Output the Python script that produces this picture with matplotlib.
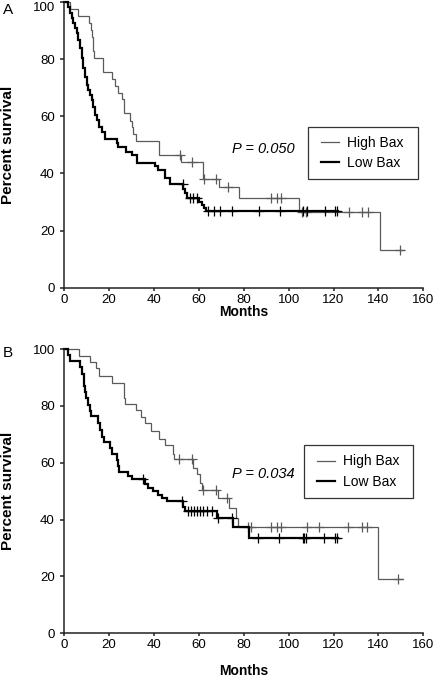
import numpy as np
import matplotlib
matplotlib.use('Agg')
import matplotlib.pyplot as plt
from matplotlib.patches import Rectangle

plt.rcParams['font.family'] = ['Liberation Sans', 'DejaVu Sans']

# ---------------- data ----------------
x_ticks = [0, 20, 40, 60, 80, 100, 120, 140, 160]
y_ticks = [0, 20, 40, 60, 80, 100]
group_labels = ["High Bax", "Low Bax"]
p_labels = ["P = 0.050", "P = 0.034"]
panel_letters = ["A", "B"]

# Panel A - High Bax (event times, survival after event)
a_high_t = [0, 2.5, 6.2, 11.1, 11.8, 12.2, 12.6, 12.9, 13.3, 17.1, 21.1, 22.6, 24.1, 25.6,
            26.6, 29.3, 30.0, 30.5, 32.0, 42.4, 51.8, 61.8, 69.0, 78.0, 104.5, 140.5]
a_high_s = [100, 97.6, 95.1, 92.7, 90.2, 87.8, 85.4, 82.9, 80.5, 75.6, 73.2, 70.7, 68.3, 65.9,
            61.0, 58.5, 56.1, 53.7, 51.2, 46.5, 44.1, 38.2, 35.2, 31.5, 26.6, 13.3]
a_high_cens = [51.6, 56.8, 62.3, 67.6, 73.1, 92.1, 94.6, 96.6, 106.0, 107.5, 126.7, 132.7, 135.2, 149.4]
a_high_end = 151.2

# Panel A - Low Bax
a_low_t = [0, 1.8, 2.5, 3.3, 4.0, 4.8, 5.5, 6.2, 7.0, 7.8, 8.5, 9.2, 10.0, 10.7, 11.5, 12.2,
           12.9, 13.7, 14.4, 15.6, 16.7, 18.1, 23.3, 24.1, 27.5, 30.0, 32.3, 40.4, 41.9, 44.9,
           47.2, 53.0, 53.8, 54.5, 60.2, 61.2, 62.3, 63.0]
a_low_s = [100, 98.3, 96.2, 94.4, 92.6, 90.9, 89.1, 86.8, 83.9, 80.3, 76.8, 73.9, 71.0, 69.2,
           67.5, 65.7, 63.4, 60.5, 58.7, 56.4, 54.6, 52.2, 50.6, 49.3, 47.6, 46.3, 43.7, 42.6,
           41.2, 38.3, 36.2, 34.5, 33.1, 31.3, 30.1, 29.0, 27.8, 27.0]
a_low_cens = [52.7, 56.0, 57.5, 59.0, 64.2, 66.8, 69.4, 74.6, 86.9, 96.2, 106.5, 108.0, 116.0, 120.6, 121.7]
a_low_end = 121.9

# Panel B - High Bax
b_high_t = [0, 6.7, 11.6, 14.1, 15.5, 21.1, 26.4, 26.8, 27.1, 32.0, 34.0, 36.0, 38.5, 42.3,
            45.0, 48.3, 49.0, 57.5, 59.0, 60.5, 61.2, 68.6, 73.6, 76.6, 77.5, 140.0]
b_high_s = [100, 97.6, 95.4, 93.2, 90.5, 88.0, 85.4, 82.9, 80.7, 78.5, 76.2, 73.8, 71.2, 68.5,
            66.1, 63.2, 61.2, 58.3, 55.9, 52.9, 50.4, 47.5, 44.2, 40.6, 37.3, 19.0]
b_high_cens = [51.2, 56.8, 61.6, 67.6, 72.6, 82.0, 83.0, 92.0, 94.6, 96.4, 108.2, 113.6, 126.6, 132.5, 135.0, 148.9]
b_high_end = 150.8

# Panel B - Low Bax
b_low_t = [0, 1.8, 2.6, 7.0, 8.0, 8.6, 9.0, 9.4, 9.7, 10.7, 11.5, 11.9, 15.2, 15.9, 16.7,
           17.7, 20.4, 21.1, 23.4, 24.1, 24.5, 28.5, 30.0, 35.9, 37.4, 39.7, 41.9, 43.4, 45.6,
           52.9, 53.8, 67.9, 75.3, 82.4]
b_low_s = [100, 97.8, 95.7, 93.5, 91.3, 89.1, 87.0, 84.8, 82.6, 80.4, 78.3, 76.3, 73.9, 71.5,
           69.2, 67.4, 65.2, 63.0, 60.8, 58.7, 56.8, 55.3, 54.1, 52.5, 51.2, 50.0, 48.8, 47.6,
           46.4, 44.4, 42.9, 40.6, 37.3, 33.5]
b_low_cens = [35.2, 52.5, 55.0, 56.5, 58.0, 59.2, 60.5, 62.0, 63.5, 65.7, 68.6, 74.6, 86.5, 95.8,
              106.2, 106.8, 107.7, 115.9, 120.6, 121.7]
b_low_end = 121.9

high_color = '#5a5a5a'
low_color = '#000000'


def surv_at(t, s, x):
    idx = np.searchsorted(np.asarray(t), np.asarray(x), side='right') - 1
    return np.asarray(s)[idx]


def draw_curve(ax, t, s, cens, end, color, lw, label):
    tt = list(t) + [end]
    ss = list(s) + [s[-1]]
    line, = ax.step(tt, ss, where='post', color=color, lw=lw, label=label,
                    clip_on=False, solid_joinstyle='miter')
    ax.plot(cens, surv_at(t, s, cens), ls='none', marker='+', ms=6.5, mew=0.9,
            color=color, clip_on=False)
    return line


fig = plt.figure(figsize=(4.36, 6.77), dpi=100)
W, H = 436.0, 677.0
left = 64.3 / W
width = (423.3 - 64.3) / W

panels = [
    dict(bottom=(H - 287.7) / H, top=(H - 2.0) / H,
         high=(a_high_t, a_high_s, a_high_cens, a_high_end),
         low=(a_low_t, a_low_s, a_low_cens, a_low_end),
         box=(0.680, 0.381, 0.986, 0.564), p_xy=(74.6, 48.5),
         letter_y=H - 10, months_y=H - 312.5, top_va='top'),
    dict(bottom=(H - 633.3) / H, top=(H - 349.0) / H,
         high=(b_high_t, b_high_s, b_high_cens, b_high_end),
         low=(b_low_t, b_low_s, b_low_cens, b_low_end),
         box=(0.668, 0.477, 0.972, 0.661), p_xy=(74.6, 56.2),
         letter_y=H - 353, months_y=H - 671.0, top_va='center_baseline'),
]

for i, pnl in enumerate(panels):
    ax = fig.add_axes([left, pnl['bottom'], width, pnl['top'] - pnl['bottom']])
    h = draw_curve(ax, *pnl['high'], high_color, 0.9, group_labels[0])
    l = draw_curve(ax, *pnl['low'], low_color, 1.6, group_labels[1])

    ax.set_xlim(0, 160)
    ax.set_ylim(0, 100)
    ax.set_xticks(x_ticks)
    ax.set_yticks(y_ticks)
    for sp in ['top', 'right']:
        ax.spines[sp].set_visible(False)
    for sp in ['left', 'bottom']:
        ax.spines[sp].set_linewidth(1.1)
        ax.spines[sp].set_color('#222222')
    ax.tick_params(axis='x', direction='out', length=2.4, width=1.1, pad=2.0,
                   labelsize=9.5, color='#222222')
    ax.tick_params(axis='y', direction='out', length=3.2, width=1.1, pad=3.6,
                   labelsize=9.5, color='#222222')
    if pnl['top_va'] == 'top':
        ax.yaxis.get_major_ticks()[-1].label1.set_verticalalignment('top')

    # legend frame and entries
    x0, y0, x1, y1 = pnl['box']
    ax.add_patch(Rectangle((x0, y0), x1 - x0, y1 - y0, transform=ax.transAxes,
                           fill=False, edgecolor='#333333', lw=0.9, clip_on=False))
    ax.legend(handles=[h, l], loc='center left',
              bbox_to_anchor=(x0 + 13.0 / 359.0, (y0 + y1) / 2),
              frameon=False, fontsize=10, borderpad=0, borderaxespad=0,
              handlelength=1.3, handletextpad=0.55, labelspacing=0.45)

    ax.text(pnl['p_xy'][0], pnl['p_xy'][1], p_labels[i], fontsize=10.5,
            style='italic', ha='left', va='center')

    fig.text(8.5 / W, (pnl['bottom'] + pnl['top']) / 2, "Percent survival",
             rotation=90, ha='center', va='center', fontsize=11, fontweight='bold')
    fig.text(left + width / 2, pnl['months_y'] / H, "Months", ha='center',
             va='center', fontsize=10, fontweight='bold')
    fig.text(8.0 / W, pnl['letter_y'] / H, panel_letters[i], ha='center',
             va='center', fontsize=11)

fig.savefig('out.png', dpi=100)
